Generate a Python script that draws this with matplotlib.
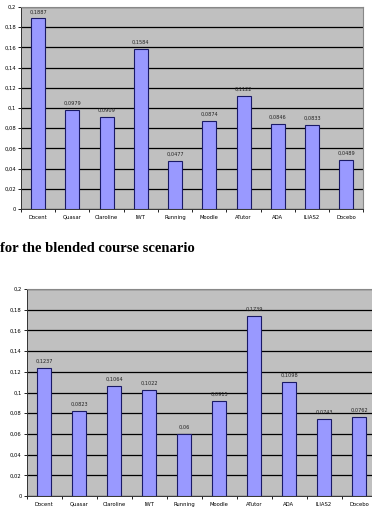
import numpy as np
import matplotlib
matplotlib.use('Agg')
import matplotlib.pyplot as plt

# Dados dos dois cenários
lms = ['Docent', 'Quasar', 'Claroline', 'IWT', 'Running', 'Moodle', 'ATutor', 'ADA', 'ILIAS2', 'Docebo']
top_vals = [0.1887, 0.0979, 0.0909, 0.1584, 0.0477, 0.0874, 0.1122, 0.0846, 0.0833, 0.0489]
blended_vals = [0.1237, 0.0823, 0.1064, 0.1022, 0.06, 0.0915, 0.1739, 0.1098, 0.0743, 0.0762]
yticks = [0, 0.02, 0.04, 0.06, 0.08, 0.1, 0.12, 0.14, 0.16, 0.18, 0.2]
caption = 'for the blended course scenario'

W, H = 372, 514
fig = plt.figure(figsize=(W / 100, H / 100), dpi=100)


def fmt(v):
    s = ('%.4f' % v).rstrip('0').rstrip('.')
    return s.replace('.', ',')


def bar_chart(rect, vals):
    ax = fig.add_axes(rect)
    ax.set_facecolor('#c0c0c0')
    x = np.arange(len(lms))
    ax.set_axisbelow(True)
    ax.yaxis.grid(True, color='black', linewidth=0.9)
    ax.bar(x, vals, width=0.41, color='#9999ff', edgecolor='#1a1a66', linewidth=0.8)
    for xi, v in zip(x, vals):
        ax.text(xi, v + 0.004, fmt(v), ha='center', va='bottom', fontsize=3.6, color='#222222')
    ax.set_xlim(-0.5, len(lms) - 0.5)
    ax.set_ylim(0, 0.2)
    ax.set_yticks(yticks)
    ax.set_yticklabels([fmt(t) for t in yticks], fontsize=3.8)
    ax.set_xticks(x)
    ax.set_xticklabels(lms, fontsize=3.8)
    ax.set_xticks(np.arange(len(lms) + 1) - 0.5, minor=True)
    ax.tick_params(axis='x', which='major', length=0, pad=4)
    ax.tick_params(axis='x', which='minor', length=2, width=0.6)
    ax.tick_params(axis='y', length=2, width=0.6, pad=1.5)
    for s in ['left', 'bottom']:
        ax.spines[s].set_color('#333333')
        ax.spines[s].set_linewidth(0.7)
    ax.spines['top'].set_color('#888888')
    ax.spines['right'].set_color('#888888')
    return ax


bar_chart([21 / W, 1 - 209 / H, (363.5 - 21) / W, (209 - 7) / H], top_vals)
bar_chart([26.5 / W, 1 - 496 / H, (376.5 - 26.5) / W, (496 - 289) / H], blended_vals)

fig.text(0.5 / W, 1 - 248 / H, caption, fontsize=10.5, fontweight='bold',
         family='Liberation Serif', va='center', ha='left')

fig.savefig('out.png', dpi=100)
